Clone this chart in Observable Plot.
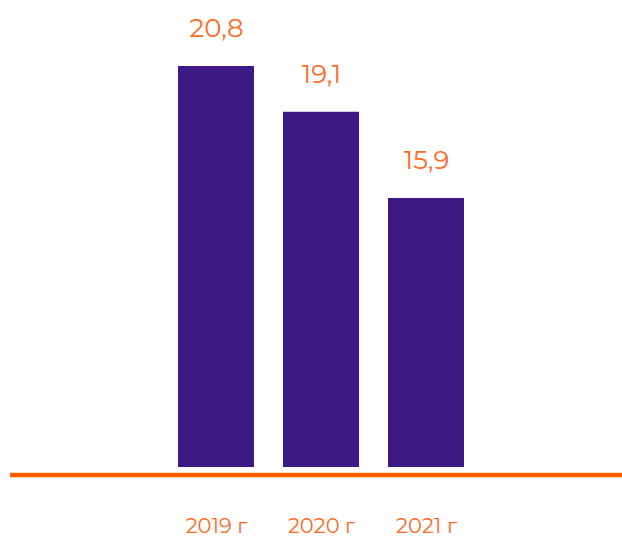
<!DOCTYPE html>
<html>
<head>
<meta charset="utf-8">
<script src="https://cdn.jsdelivr.net/npm/d3@7"></script>
<script src="https://cdn.jsdelivr.net/npm/@observablehq/plot@0.6"></script>
<style>
  html, body { margin: 0; padding: 0; background: #fff; }
  #chart svg { display: block; }
</style>
</head>
<body>
<div id="chart"></div>
<script>
const years = ["2019 г", "2020 г", "2021 г"];
const values = [20.8, 19.1, 15.9];
const valueLabels = ["20,8", "19,1", "15,9"];
const axisBase = 5.91;

const data = years.map((year, i) => ({year, value: values[i], label: valueLabels[i]}));

const purple = "#3d1986";
const orange = "#ff6a1f";
const lineOrange = "#ff5e00";
const font = "Montserrat, 'Open Sans', sans-serif";

const chart = Plot.plot({
  width: 622,
  height: 536,
  marginTop: 66,
  marginBottom: 69,
  marginLeft: 10,
  marginRight: 0,
  style: {fontFamily: font, background: "#fff"},
  x: {type: "band", domain: years, range: [163.5, 478.5], paddingInner: 0.276, paddingOuter: 0.138, axis: null},
  y: {domain: [axisBase, 20.8], axis: null},
  marks: [
    Plot.barY(data, {x: "year", y1: axisBase, y2: "value", fill: purple}),
    Plot.ruleY([axisBase], {stroke: lineOrange, strokeWidth: 4.5, dy: 7.5}),
    Plot.text(data, {x: "year", y: "value", text: "label", dy: -38, fill: orange, fontSize: 26, fontWeight: 400}),
    Plot.text(data, {x: "year", text: "year", frameAnchor: "bottom", dy: 65, fill: orange, fontSize: 21, fontWeight: 400})
  ]
});
document.getElementById("chart").appendChild(chart);
</script>
</body>
</html>
